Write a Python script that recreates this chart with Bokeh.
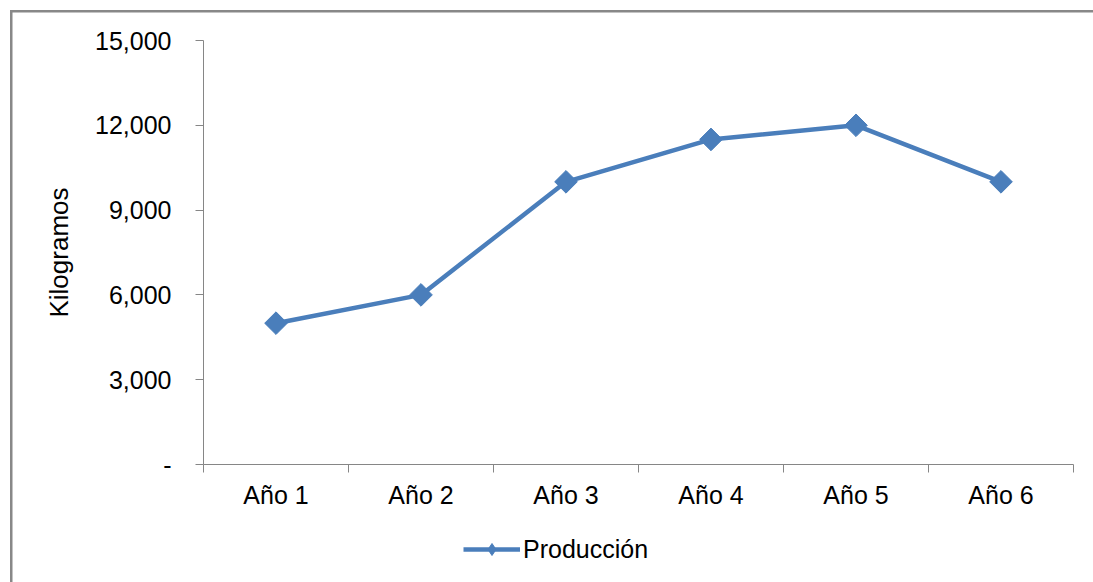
from bokeh.plotting import figure
from bokeh.models import FixedTicker, Legend, LegendItem, Range1d
from bokeh.layouts import column
from bokeh.embed import file_html
from bokeh.resources import INLINE
import math

categories = ["Año 1", "Año 2", "Año 3", "Año 4", "Año 5", "Año 6"]
produccion = [5000, 6000, 10000, 11500, 12000, 10000]
y_ticks = [0, 3000, 6000, 9000, 12000, 15000]
y_tick_labels = ["-", "3,000", "6,000", "9,000", "12,000", "15,000"]
series_name = "Producción"

FONT = "Liberation Sans"
BLUE = "#4A7EBB"
GRAY = "#868686"

xs = [i + 0.5 for i in range(len(categories))]

p = figure(width=1093, height=520, output_backend="svg", toolbar_location=None,
           x_range=Range1d(0, len(categories)), y_range=Range1d(0, 15000),
           min_border_left=203, min_border_right=20, min_border_top=40, min_border_bottom=56)
p.outline_line_color = None
p.background_fill_color = "white"
p.border_fill_color = None
p.xgrid.visible = False
p.ygrid.visible = False

line = p.line(xs, produccion, line_color=BLUE, line_width=4.5)
marks = p.scatter(xs, produccion, marker="square", size=16, angle=math.pi / 4,
                  fill_color=BLUE, line_color=BLUE)

# Y axis
ya = p.yaxis[0]
ya.ticker = FixedTicker(ticks=y_ticks)
ya.major_label_overrides = {t: l for t, l in zip(y_ticks, y_tick_labels)}
ya.axis_label = "Kilogramos"
ya.axis_label_text_font = FONT
ya.axis_label_text_font_size = "26px"
ya.axis_label_text_font_style = "normal"
ya.axis_label_text_color = "black"
ya.axis_label_standoff = 18
ya.major_label_text_font = FONT
ya.major_label_text_font_size = "25px"
ya.major_label_text_color = "black"
ya.major_label_standoff = 24
ya.axis_line_color = GRAY
ya.major_tick_line_color = GRAY
ya.major_tick_out = 8
ya.major_tick_in = 0
ya.minor_tick_line_color = None

# X axis
xa = p.xaxis[0]
xa.ticker = FixedTicker(ticks=xs, minor_ticks=list(range(len(categories) + 1)))
xa.major_label_overrides = {x: c for x, c in zip(xs, categories)}
xa.major_label_text_font = FONT
xa.major_label_text_font_size = "25px"
xa.major_label_text_color = "black"
xa.major_label_standoff = 8
xa.axis_line_color = GRAY
xa.major_tick_line_color = None
xa.major_tick_out = 0
xa.major_tick_in = 0
xa.minor_tick_line_color = GRAY
xa.minor_tick_out = 8
xa.minor_tick_in = 0

# Legend strip below the chart (its proxy renderers lie outside its view)
pl = figure(width=1093, height=62, output_backend="svg", toolbar_location=None,
            x_axis_type=None, y_axis_type=None,
            x_range=Range1d(0, 1), y_range=Range1d(0, 1),
            min_border_left=0, min_border_right=0, min_border_top=0, min_border_bottom=0)
pl.outline_line_color = None
pl.background_fill_color = None
pl.border_fill_color = None
pl.xgrid.visible = False
pl.ygrid.visible = False
l_line = pl.line(xs, produccion, line_color=BLUE, line_width=4.5)
l_mark = pl.scatter(xs, produccion, marker="diamond", size=19,
                    fill_color=BLUE, line_color=BLUE)
legend = Legend(items=[LegendItem(label=series_name, renderers=[l_line, l_mark])],
                location=(260, 18), orientation="horizontal",
                glyph_width=57, glyph_height=30, label_standoff=3,
                label_text_font=FONT, label_text_font_size="25px",
                label_text_color="black",
                border_line_color=None, background_fill_alpha=0,
                padding=0, margin=0)
pl.add_layout(legend, "center")

layout = column(p, pl, spacing=0, styles={
    "background": ("linear-gradient(#888888,#888888) 10px 10px / 2.5px 100% no-repeat, "
                   "linear-gradient(#888888,#888888) 10px 10px / 100% 2.5px no-repeat, white")
})

open("out.html", "w").write(file_html(layout, INLINE))
